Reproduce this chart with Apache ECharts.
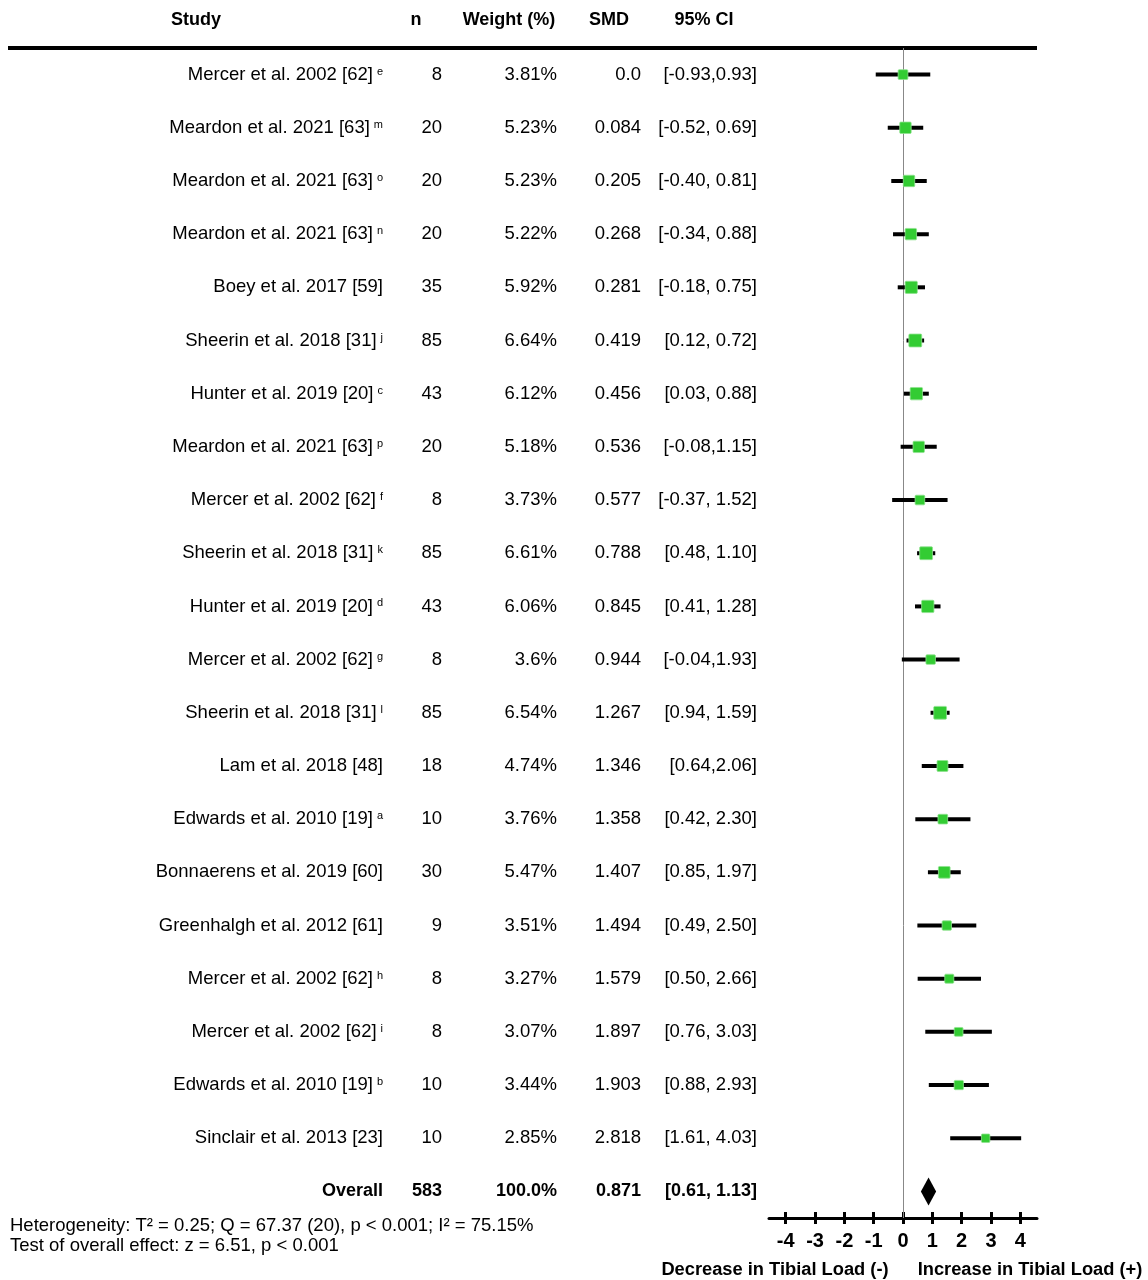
<!DOCTYPE html>
<html>
<head>
<meta charset="utf-8">
<title>Forest plot – tibial load</title>
<script src="https://cdn.jsdelivr.net/npm/echarts@6/dist/echarts.min.js"></script>
<style>
  html, body { margin: 0; padding: 0; background: #fff; }
  #chart { width: 1148px; height: 1280px; }
</style>
</head>
<body>
<div id="chart"></div>
<script>
// Study rows, top to bottom
const studies = [
  'Mercer et al. 2002 [62]', 'Meardon et al. 2021 [63]', 'Meardon et al. 2021 [63]',
  'Meardon et al. 2021 [63]', 'Boey et al. 2017 [59]', 'Sheerin et al. 2018 [31]',
  'Hunter et al. 2019 [20]', 'Meardon et al. 2021 [63]', 'Mercer et al. 2002 [62]',
  'Sheerin et al. 2018 [31]', 'Hunter et al. 2019 [20]', 'Mercer et al. 2002 [62]',
  'Sheerin et al. 2018 [31]', 'Lam et al. 2018 [48]', 'Edwards et al. 2010 [19]',
  'Bonnaerens et al. 2019 [60]', 'Greenhalgh et al. 2012 [61]', 'Mercer et al. 2002 [62]',
  'Mercer et al. 2002 [62]', 'Edwards et al. 2010 [19]', 'Sinclair et al. 2013 [23]'
];
const footnotes = ['e', 'm', 'o', 'n', '', 'j', 'c', 'p', 'f', 'k', 'd', 'g', 'l', '', 'a', '', '', 'h', 'i', 'b', ''];
const sampleN = [8, 20, 20, 20, 35, 85, 43, 20, 8, 85, 43, 8, 85, 18, 10, 30, 9, 8, 8, 10, 10];
const weights = [3.81, 5.23, 5.23, 5.22, 5.92, 6.64, 6.12, 5.18, 3.73, 6.61, 6.06, 3.6, 6.54, 4.74, 3.76, 5.47, 3.51, 3.27, 3.07, 3.44, 2.85];
const weightLabels = ['3.81%', '5.23%', '5.23%', '5.22%', '5.92%', '6.64%', '6.12%', '5.18%', '3.73%', '6.61%', '6.06%', '3.6%', '6.54%', '4.74%', '3.76%', '5.47%', '3.51%', '3.27%', '3.07%', '3.44%', '2.85%'];
const smd = [0.0, 0.084, 0.205, 0.268, 0.281, 0.419, 0.456, 0.536, 0.577, 0.788, 0.845, 0.944, 1.267, 1.346, 1.358, 1.407, 1.494, 1.579, 1.897, 1.903, 2.818];
const smdLabels = ['0.0', '0.084', '0.205', '0.268', '0.281', '0.419', '0.456', '0.536', '0.577', '0.788', '0.845', '0.944', '1.267', '1.346', '1.358', '1.407', '1.494', '1.579', '1.897', '1.903', '2.818'];
const ciLow = [-0.93, -0.52, -0.40, -0.34, -0.18, 0.12, 0.03, -0.08, -0.37, 0.48, 0.41, -0.04, 0.94, 0.64, 0.42, 0.85, 0.49, 0.50, 0.76, 0.88, 1.61];
const ciHigh = [0.93, 0.69, 0.81, 0.88, 0.75, 0.72, 0.88, 1.15, 1.52, 1.10, 1.28, 1.93, 1.59, 2.06, 2.30, 1.97, 2.50, 2.66, 3.03, 2.93, 4.03];
const ciLabels = ['[-0.93,0.93]', '[-0.52, 0.69]', '[-0.40, 0.81]', '[-0.34, 0.88]', '[-0.18, 0.75]', '[0.12, 0.72]', '[0.03, 0.88]', '[-0.08,1.15]', '[-0.37, 1.52]', '[0.48, 1.10]', '[0.41, 1.28]', '[-0.04,1.93]', '[0.94, 1.59]', '[0.64,2.06]', '[0.42, 2.30]', '[0.85, 1.97]', '[0.49, 2.50]', '[0.50, 2.66]', '[0.76, 3.03]', '[0.88, 2.93]', '[1.61, 4.03]'];

// Pooled estimate
const overall = { label: 'Overall', n: '583', weight: '100.0%', smd: 0.871, smdLabel: '0.871', lo: 0.61, hi: 1.13, ciLabel: '[0.61, 1.13]' };

// Axis ticks and headers
const tickValues = [-4, -3, -2, -1, 0, 1, 2, 3, 4];
const headers = ['Study', 'n', 'Weight (%)', 'SMD', '95% CI'];
const statsLines = [
  'Heterogeneity: T\u00b2 = 0.25; Q = 67.37 (20), p < 0.001; I\u00b2 = 75.15%',
  'Test of overall effect: z = 6.51, p < 0.001'
];
const directionLabels = ['Decrease in Tibial Load (-)', 'Increase in Tibial Load (+)'];

const FONT = "'Liberation Sans', Arial, Helvetica, sans-serif";
const BODY_SIZE = 18.5;
const rowCategories = studies.map((s, i) => String(i)).concat(['overall']);

// column anchors (right-aligned text)
const colStudy = 383, colN = 442, colWeight = 557, colSmd = 641, colCi = 757;

const chart = echarts.init(document.getElementById('chart'), null, { renderer: 'canvas' });

const rowData = studies.map((s, i) => [smd[i], i, ciLow[i], ciHigh[i], weights[i]]);
const tableData = studies.map((s, i) => [0, i]).concat([[0, studies.length]]);

function textEl(x, y, text, align, extra) {
  return {
    type: 'text',
    x: x, y: y,
    style: Object.assign({
      text: text, textAlign: align, textVerticalAlign: 'middle',
      fontFamily: FONT, fontSize: BODY_SIZE, fill: '#000'
    }, extra || {})
  };
}

const option = {
  animation: false,
  backgroundColor: '#fff',
  grid: { left: 769, width: 268, top: 48, height: 1170, containLabel: false },
  xAxis: [
    {
      type: 'value', min: -4.57, max: 4.57,
      axisLine: { show: true, lineStyle: { color: '#000', width: 3 } },
      axisTick: { show: true, customValues: tickValues, length: 6, lineStyle: { color: '#000', width: 3 } },
      axisLabel: { show: true, customValues: tickValues, margin: 13, color: '#000', fontFamily: FONT, fontSize: 20, fontWeight: 'bold' },
      splitLine: { show: false }
    },
    {
      type: 'value', min: -4.57, max: 4.57, position: 'bottom',
      axisLine: { show: false },
      axisTick: { show: true, inside: true, customValues: tickValues, length: 6, lineStyle: { color: '#000', width: 3 } },
      axisLabel: { show: false },
      splitLine: { show: false }
    }
  ],
  yAxis: {
    type: 'category', data: rowCategories, inverse: true,
    axisLine: { show: false }, axisTick: { show: false }, axisLabel: { show: false }, splitLine: { show: false }
  },
  graphic: [
    // header row
    textEl(196, 20, headers[0], 'center', { fontWeight: 'bold', fontSize: 18 }),
    textEl(416, 20, headers[1], 'center', { fontWeight: 'bold', fontSize: 18 }),
    textEl(509, 20, headers[2], 'center', { fontWeight: 'bold', fontSize: 18 }),
    textEl(609, 20, headers[3], 'center', { fontWeight: 'bold', fontSize: 18 }),
    textEl(704, 20, headers[4], 'center', { fontWeight: 'bold', fontSize: 18 }),
    {
      type: 'line',
      shape: { x1: 8, y1: 48, x2: 1037, y2: 48 },
      style: { stroke: '#000', lineWidth: 4 }
    },
    // summary statistics
    textEl(10, 1226, statsLines[0], 'left'),
    textEl(10, 1246, statsLines[1], 'left'),
    // direction labels
    textEl(775, 1270, directionLabels[0], 'center', { fontWeight: 'bold', fontSize: 18.3 }),
    textEl(1030, 1270, directionLabels[1], 'center', { fontWeight: 'bold', fontSize: 18.3 })
  ],
  series: [
    {
      // table columns, one group per row
      type: 'custom',
      coordinateSystem: 'cartesian2d',
      data: tableData,
      silent: true,
      renderItem: function (params, api) {
        const row = api.value(1);
        const y = api.coord([0, row])[1];
        if (row === studies.length) {
          const b = { fontWeight: 'bold', fontSize: 18 };
          return {
            type: 'group',
            children: [
              textEl(colStudy, y, overall.label, 'right', b),
              textEl(colN, y, overall.n, 'right', b),
              textEl(colWeight, y, overall.weight, 'right', b),
              textEl(colSmd, y, overall.smdLabel, 'right', b),
              textEl(colCi, y, overall.ciLabel, 'right', b)
            ]
          };
        }
        const sup = footnotes[row];
        const label = sup ? '{m|' + studies[row] + '}{s|' + sup + '}' : '{m|' + studies[row] + '}';
        return {
          type: 'group',
          children: [
            textEl(colStudy, y, label, 'right', {
              rich: {
                m: { fontFamily: FONT, fontSize: BODY_SIZE, lineHeight: 20, fill: '#000' },
                s: { fontFamily: FONT, fontSize: 11, verticalAlign: 'middle', lineHeight: 12, padding: [0, 0, 6, 4], fill: '#000' }
              }
            }),
            textEl(colN, y, String(sampleN[row]), 'right'),
            textEl(colWeight, y, weightLabels[row], 'right'),
            textEl(colSmd, y, smdLabels[row], 'right'),
            textEl(colCi, y, ciLabels[row], 'right')
          ]
        };
      }
    },
    {
      // confidence intervals and weighted point estimates
      type: 'custom',
      coordinateSystem: 'cartesian2d',
      data: rowData,
      z: 5,
      encode: { x: 0, y: 1 },
      renderItem: function (params, api) {
        const row = api.value(1);
        const c = api.coord([api.value(0), row]);
        const lo = api.coord([api.value(2), row]);
        const hi = api.coord([api.value(3), row]);
        const size = Math.sqrt(api.value(4)) * 5;
        return {
          type: 'group',
          children: [
            {
              type: 'line',
              shape: { x1: lo[0], y1: lo[1], x2: hi[0], y2: hi[1] },
              style: { stroke: '#000', lineWidth: 4 }
            },
            {
              type: 'rect',
              shape: { x: c[0] - size / 2, y: c[1] - size / 2, width: size, height: size, r: 1 },
              style: { fill: '#33cc33', stroke: '#8fe28f', lineWidth: 0.8 }
            }
          ]
        };
      },
      markLine: {
        silent: true,
        symbol: 'none',
        label: { show: false },
        lineStyle: { color: '#888', width: 1, type: 'solid' },
        data: [{ xAxis: 0 }],
        z: 1
      }
    },
    {
      // pooled effect diamond
      type: 'custom',
      coordinateSystem: 'cartesian2d',
      data: [[overall.smd, studies.length, overall.lo, overall.hi]],
      z: 5,
      encode: { x: 0, y: 1 },
      renderItem: function (params, api) {
        const row = api.value(1);
        const c = api.coord([api.value(0), row]);
        const lo = api.coord([api.value(2), row]);
        const hi = api.coord([api.value(3), row]);
        const h = 14;
        return {
          type: 'polygon',
          shape: { points: [[lo[0], c[1]], [c[0], c[1] - h], [hi[0], c[1]], [c[0], c[1] + h]] },
          style: { fill: '#000' }
        };
      }
    }
  ]
};

chart.setOption(option);
</script>
</body>
</html>
